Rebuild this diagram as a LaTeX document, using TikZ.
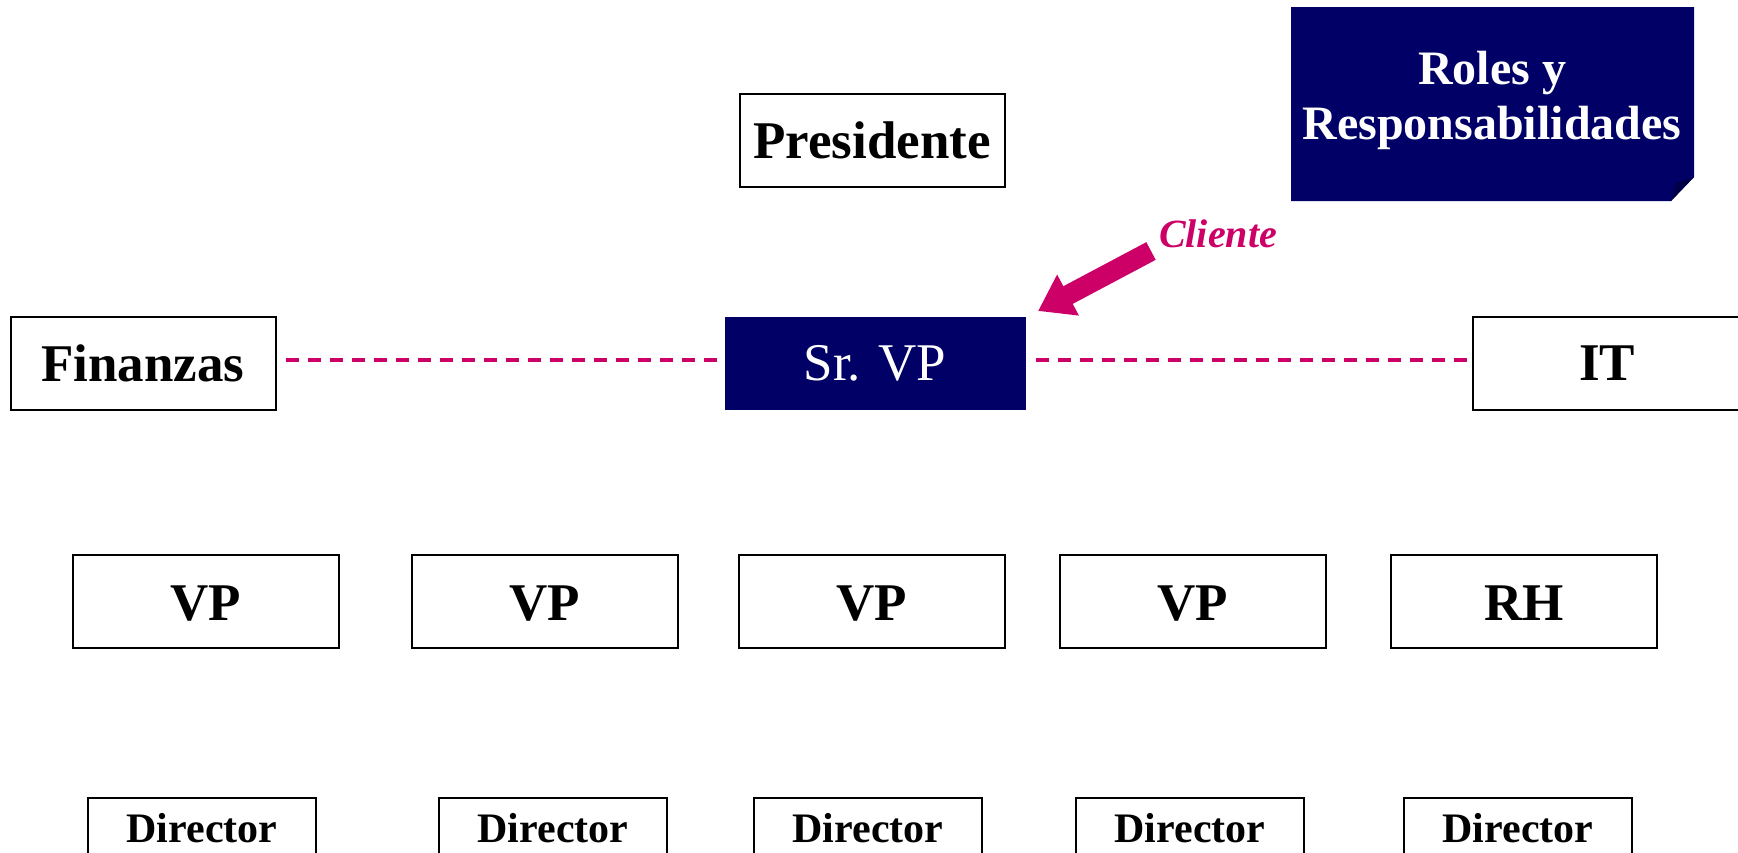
\documentclass[tikz,border=0pt]{standalone}
\usepackage{fontspec}
\setmainfont{Liberation Serif}
\usepackage{tikz}
\usetikzlibrary{arrows.meta,positioning}

\definecolor{navy}{HTML}{000066}
\definecolor{rosa}{HTML}{CC0066}

\begin{document}
\begin{tikzpicture}[x=1pt, y=-1pt]
		\tikzstyle{Box}		= [rectangle, draw=black, line width=2pt, fill=white, inner sep=0pt, minimum width=266pt, minimum height=93pt, font=\fontsize{53}{60}\selectfont\bfseries]
		\tikzstyle{Dark}	= [fill=navy, draw=none, text=white]
		\tikzstyle{Row}		= [text height=39pt, text depth=0pt]
		\tikzstyle{Small}	= [minimum width=228pt, minimum height=60pt, font=\fontsize{42}{48}\selectfont\bfseries]
		\tikzstyle{Link}	= [line width=4pt, rosa, dash pattern=on 13pt off 9pt, dash phase=13pt]
		\tikzstyle{Pointer}	= [line width=20pt, rosa, -{Triangle[length=34pt, width=44pt]}]

		\useasboundingbox (0,0) rectangle (1738,852);
		\clip (0,0) rectangle (1738,852);

		% title card with folded corner
		\fill [navy] (1291,7) -- (1694,7) -- (1694,177) -- (1671,201) -- (1291,201) -- cycle;
		\fill [navy!70!black] (1671,201) -- (1694,177) -- (1676,183) -- cycle;
		\node (roles) at (1492,100) [align=center, text=white, font=\fontsize{48}{55}\selectfont\bfseries] {Roles y\\Responsabilidades};

		\node (pres) at (872,140) [Box, minimum width=265pt] {Presidente};
		\node (fin)  at (143,363) [Box, minimum width=265pt] {Finanzas};
		\node (srvp) at (875,363) [Box][Dark, minimum width=301pt, font=\fontsize{53}{60}\selectfont] {Sr. VP};
		\node (it)   at (1607,363) [Box, minimum width=268pt] {IT};

		\node (vp1) at (206,601)  [Box][Row] {VP};
		\node (vp2) at (545,601)  [Box][Row] {VP};
		\node (vp3) at (872,601)  [Box][Row] {VP};
		\node (vp4) at (1193,601) [Box][Row] {VP};
		\node (rh)  at (1524,601) [Box][Row] {RH};

		\node (dir1) at (202,828)  [Box][Small] {Director};
		\node (dir2) at (553,828)  [Box][Small] {Director};
		\node (dir3) at (868,828)  [Box][Small] {Director};
		\node (dir4) at (1190,828) [Box][Small] {Director};
		\node (dir5) at (1518,828) [Box][Small] {Director};

		\draw [-] ([yshift=3pt]fin.east) to ([yshift=3pt]srvp.west) [Link];
		\draw [-] ([yshift=3pt]srvp.east) to ([yshift=3pt]it.west) [Link];

		% client marker
		\node (cli) at (1218,247) [anchor=base, text=rosa, font=\fontsize{40}{46}\selectfont\bfseries\itshape] {Cliente};
		\coordinate (tail) at (1151,251);
		\coordinate (tip) at (1038,311);
		\draw (tail) -- (tip) [Pointer];
	\end{tikzpicture}
\end{document}
